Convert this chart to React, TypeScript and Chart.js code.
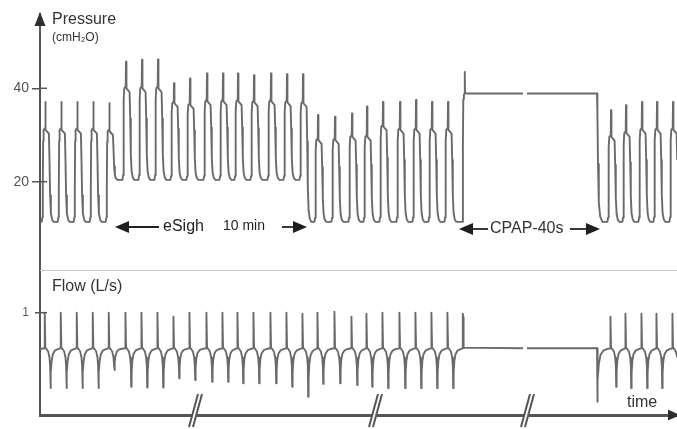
import React, { useEffect, useRef } from 'react';
import { Chart, registerables } from 'chart.js';

Chart.register(...registerables);

// ---------- data (time in recording units, pressure cmH2O, flow L/s) ----------
const timeRange = [0, 637];
const timeBreaks = [155, 335, 487];
const recordingGap = [483, 487];

const breathTimes = [
  5.3, 21.3, 37.3, 53.3, 69.3,
  86, 102, 118, 134, 150, 167, 183, 198, 214, 231, 247, 263,
  278, 295, 312, 327, 343, 360, 376, 392, 408,
  571, 586, 602, 617, 633,
];
const peakPressure = [
  37.1, 37.1, 37.1, 37.1, 36.8,
  45.7, 46.1, 46.2, 41.1, 42.1, 43.2, 43.2, 43.2, 42.8, 43.2, 43.0, 43.0,
  34.3, 33.9, 34.6, 36.1, 37.1, 37.1, 37.5, 37.1, 37.1,
  35.3, 36.4, 37.1, 37.1, 37.1,
];
const plateauPressure = [
  31.1, 31.1, 31.1, 31.1, 30.8,
  40.0, 40.0, 40.0, 36.8, 36.4, 37.2, 37.2, 37.2, 37.0, 37.2, 37.0, 36.8,
  28.9, 28.9, 29.6, 29.6, 31.8, 31.1, 31.1, 31.1, 31.1,
  29.6, 30.4, 31.1, 31.1, 31.1,
];
const peepAfter = [
  11.4, 11.4, 11.4, 11.4, 20.4,
  20.4, 20.4, 20.4, 20.4, 20.4, 20.4, 20.4, 20.4, 20.4, 20.4, 20.4, 11.4,
  11.4, 11.4, 11.4, 11.4, 11.4, 11.4, 11.4, 11.4, 11.4,
  11.4, 11.4, 11.4, 11.4, 11.4,
];
const startPeep = 11.4;

const flowPeak = [
  1.0, 1.0, 1.0, 1.0, 1.0,
  1.0, 1.0, 1.0, 0.89, 1.0, 1.0, 1.0, 1.0, 1.0, 1.0, 1.0, 0.97,
  1.0, 1.03, 0.89, 0.97, 1.0, 1.0, 1.0, 1.0, 1.0,
  0.89, 0.97, 0.97, 0.97, 0.97,
];
const flowTrough = [
  -1.12, -1.12, -1.12, -1.12, -0.61,
  -1.08, -1.1, -1.1, -0.84, -0.89, -0.94, -0.94, -0.98, -0.98, -0.98, -1.08, -1.36,
  -1.0, -0.98, -1.03, -1.08, -1.12, -1.12, -1.12, -1.12, -1.12,
  -1.08, -1.12, -1.12, -1.12, -1.12,
];

const cpapWindow = [423, 557];
const cpapPressure = 38.9;
const cpapOvershoot = 43.5;
const cpapInflowPeak = 0.97;
const cpapReleaseFlow = -1.5;

const pressureRange = [1.09, 55.91];
const flowRange = [-1.874, 2.2];
const pressureTicks = [20, 40];
const flowTicks = [1];

const eSighSpan = [75, 267];
const cpapSpan = [419, 560];

// ---------- trace construction ----------
type Pt = { x: number; y: number | null };

function addCpapPressure(pts: Pt[], base: number) {
  const [s, e] = cpapWindow;
  const L = cpapPressure;
  const d = L - base;
  pts.push(
    { x: s - 0.6, y: base },
    { x: s - 0.1, y: base + 0.6 * d },
    { x: s + 0.3, y: L - 1.2 },
    { x: s + 0.9, y: L - 0.3 },
    { x: s + 1.6, y: L },
    { x: s + 1.8, y: cpapOvershoot },
    { x: s + 2.0, y: L },
    { x: recordingGap[0], y: L },
    { x: (recordingGap[0] + recordingGap[1]) / 2, y: null },
    { x: recordingGap[1], y: L },
    { x: e, y: L },
    { x: e + 0.4, y: L - 0.15 * d },
    { x: e + 1.0, y: base + 0.45 * d },
    { x: e + 1.8, y: base + 0.15 * d },
    { x: e + 3.2, y: base + 0.04 * d },
    { x: e + 5.5, y: base },
  );
}

function pressureTrace(): Pt[] {
  const pts: Pt[] = [{ x: timeRange[0], y: startPeep }];
  let base = startPeep;
  let cpapDone = false;
  breathTimes.forEach((p, i) => {
    if (!cpapDone && cpapWindow[0] < p) {
      addCpapPressure(pts, base);
      cpapDone = true;
    }
    const P = peakPressure[i];
    const q = plateauPressure[i];
    const b1 = peepAfter[i];
    const up = q - base;
    const q2 = q - 0.8;
    const down = q2 - b1;
    pts.push(
      { x: p - 3.6, y: base },
      { x: p - 2.9, y: base + 0.05 * up },
      { x: p - 2.5, y: base + 0.35 * up },
      { x: p - 2.15, y: base + 0.88 * up },
      { x: p - 1.7, y: q },
      { x: p - 0.3, y: q + 0.4 },
      { x: p, y: P },
      { x: p + 0.45, y: q },
      { x: p + 3.6, y: q2 },
      { x: p + 4.2, y: b1 + 0.7 * down },
      { x: p + 4.8, y: b1 + 0.3 * down },
      { x: p + 5.6, y: b1 + 0.1 * down },
      { x: p + 6.7, y: b1 + 0.03 * down },
      { x: p + 8.2, y: b1 },
    );
    base = b1;
  });
  return pts;
}

function addCpapFlow(pts: Pt[]) {
  const [s, e] = cpapWindow;
  const R = cpapReleaseFlow;
  pts.push(
    { x: s - 0.5, y: 0 },
    { x: s - 0.2, y: cpapInflowPeak },
    { x: s + 0.2, y: cpapInflowPeak * 0.9 },
    { x: s + 0.6, y: 0.02 },
    { x: recordingGap[0], y: 0 },
    { x: (recordingGap[0] + recordingGap[1]) / 2, y: null },
    { x: recordingGap[1], y: 0 },
    { x: e, y: 0 },
    { x: e + 0.3, y: R },
    { x: e + 0.8, y: R * 0.6 },
    { x: e + 1.8, y: R * 0.3 },
    { x: e + 3.5, y: R * 0.12 },
    { x: e + 6.5, y: R * 0.04 },
    { x: e + 10, y: -0.02 },
  );
}

function flowTrace(): Pt[] {
  const pts: Pt[] = [{ x: timeRange[0], y: -0.02 }];
  let cpapDone = false;
  breathTimes.forEach((p, i) => {
    if (!cpapDone && cpapWindow[0] < p) {
      addCpapFlow(pts);
      cpapDone = true;
    }
    const F = flowPeak[i];
    const T = flowTrough[i];
    pts.push(
      { x: p - 1.0, y: 0 },
      { x: p - 0.75, y: F },
      { x: p - 0.35, y: F * 0.94 },
      { x: p + 0.05, y: 0.02 },
      { x: p + 1.5, y: -0.03 },
      { x: p + 3.0, y: -0.1 },
      { x: p + 4.2, y: -0.26 },
      { x: p + 4.85, y: -0.5 },
      { x: p + 5.2, y: T },
      { x: p + 5.6, y: T * 0.62 },
      { x: p + 6.3, y: T * 0.33 },
      { x: p + 7.5, y: T * 0.15 },
      { x: p + 9.5, y: T * 0.06 },
      { x: p + 12.5, y: T * 0.02 },
    );
  });
  return pts;
}

// ---------- drawing helpers ----------
const FONT = '"Liberation Sans", Arial, Helvetica, sans-serif';
const AXIS = '#555';
const TRACE = '#6a6a6a';

function head(ctx: CanvasRenderingContext2D, tx: number, ty: number, dx: number, dy: number, len: number, half: number) {
  const bx = tx - dx * len;
  const by = ty - dy * len;
  const px = -dy * half;
  const py = dx * half;
  ctx.beginPath();
  ctx.moveTo(tx, ty);
  ctx.lineTo(bx + px, by + py);
  ctx.lineTo(bx - px, by - py);
  ctx.closePath();
  ctx.fill();
}

function hline(ctx: CanvasRenderingContext2D, x0: number, x1: number, y: number) {
  ctx.beginPath();
  ctx.moveTo(x0, y);
  ctx.lineTo(x1, y);
  ctx.stroke();
}

const overlay = {
  id: 'overlay',
  beforeDatasetsDraw(chart: any) {
    const { ctx, chartArea } = chart;
    const yF = chart.scales.yF;
    ctx.save();
    ctx.strokeStyle = '#c8c8c8';
    ctx.lineWidth = 1;
    hline(ctx, chartArea.left, chartArea.right, Math.round(yF.top) + 0.5);
    ctx.restore();
  },
  afterDraw(chart: any) {
    const { ctx, chartArea } = chart;
    const x = chart.scales.x;
    const yP = chart.scales.yP;
    const yF = chart.scales.yF;
    const L = chartArea.left;
    const B = chartArea.bottom;
    ctx.save();

    // axis arrows
    ctx.fillStyle = '#2e2e2e';
    ctx.strokeStyle = AXIS;
    ctx.lineWidth = 2;
    ctx.beginPath();
    ctx.moveTo(L, chartArea.top + 2);
    ctx.lineTo(L, 20);
    ctx.stroke();
    head(ctx, L, 12, 0, -1, 14, 5.5);
    head(ctx, chartArea.right + 3, B, 1, 0, 12, 5.5);

    // inner halves of tick marks
    ctx.lineWidth = 1.5;
    pressureTicks.forEach((v) => hline(ctx, L, L + 7, yP.getPixelForValue(v)));
    flowTicks.forEach((v) => hline(ctx, L, L + 7, yF.getPixelForValue(v)));

    // time-axis breaks
    timeBreaks.forEach((t) => {
      const cx = x.getPixelForValue(t);
      ctx.fillStyle = '#fff';
      ctx.beginPath();
      ctx.moveTo(cx - 3, B + 3);
      ctx.lineTo(cx + 1, B + 3);
      ctx.lineTo(cx + 3, B - 3);
      ctx.lineTo(cx - 1, B - 3);
      ctx.closePath();
      ctx.fill();
      ctx.strokeStyle = AXIS;
      ctx.lineWidth = 2;
      ctx.beginPath();
      ctx.moveTo(cx - 6, B + 12);
      ctx.lineTo(cx + 3, B - 21);
      ctx.moveTo(cx - 2, B + 12);
      ctx.lineTo(cx + 7, B - 21);
      ctx.stroke();
    });

    // labels
    ctx.textBaseline = 'middle';
    ctx.textAlign = 'left';
    ctx.fillStyle = '#333';
    ctx.font = `16px ${FONT}`;
    ctx.fillText('Pressure', 52, 20);
    ctx.fillText('Flow (L/s)', 52, 287);
    ctx.fillText('time', 627, 403);
    ctx.font = `12px ${FONT}`;
    ctx.fillText('(cmH₂O)', 52, 38);

    // annotation arrows
    ctx.fillStyle = '#1e1e1e';
    ctx.strokeStyle = '#222';
    ctx.lineWidth = 1.8;
    const ya = 227;
    const e0 = x.getPixelForValue(eSighSpan[0]);
    const e1 = x.getPixelForValue(eSighSpan[1]);
    head(ctx, e0, ya, -1, 0, 14, 6);
    hline(ctx, e0 + 10, e0 + 44, ya);
    ctx.font = `16px ${FONT}`;
    ctx.fillText('eSigh', e0 + 48, ya);
    ctx.font = `14px ${FONT}`;
    ctx.fillText('10 min', e0 + 108, ya - 1);
    hline(ctx, e1 - 25, e1 - 10, ya);
    head(ctx, e1, ya, 1, 0, 14, 6);

    const yc = 229;
    const c0 = x.getPixelForValue(cpapSpan[0]);
    const c1 = x.getPixelForValue(cpapSpan[1]);
    head(ctx, c0, yc, -1, 0, 14, 6);
    hline(ctx, c0 + 10, c0 + 29, yc);
    ctx.font = `16px ${FONT}`;
    ctx.fillStyle = '#333';
    ctx.fillText('CPAP-40s', c0 + 31, yc);
    ctx.fillStyle = '#1e1e1e';
    hline(ctx, c1 - 30, c1 - 10, yc);
    head(ctx, c1, yc, 1, 0, 14, 6);

    ctx.restore();
  },
};

export default function App() {
  const ref = useRef<HTMLCanvasElement>(null);
  useEffect(() => {
    document.body.style.margin = '0';
    const chart = new Chart(ref.current as HTMLCanvasElement, {
      type: 'line',
      data: {
        datasets: [
          {
            label: 'Pressure (cmH₂O)',
            data: pressureTrace() as any,
            yAxisID: 'yP',
            borderColor: TRACE,
            borderWidth: 1.9,
            pointRadius: 0,
            tension: 0,
            borderJoinStyle: 'round',
            spanGaps: false,
          },
          {
            label: 'Flow (L/s)',
            data: flowTrace() as any,
            yAxisID: 'yF',
            borderColor: TRACE,
            borderWidth: 1.9,
            pointRadius: 0,
            tension: 0,
            borderJoinStyle: 'round',
            spanGaps: false,
          },
        ],
      },
      options: {
        responsive: false,
        animation: false,
        events: [],
        layout: { padding: { top: 14, bottom: 14, left: 0, right: 0 } },
        plugins: { legend: { display: false }, tooltip: { enabled: false } },
        scales: {
          x: {
            type: 'linear',
            min: timeRange[0],
            max: timeRange[1],
            ticks: { display: false },
            grid: { display: false, drawTicks: false },
            border: { display: true, color: AXIS, width: 3 },
            afterFit: (s: any) => { s.height = 0; },
          },
          yF: {
            type: 'linear',
            position: 'left',
            stack: 'trace',
            stackWeight: 145,
            weight: 0,
            min: flowRange[0],
            max: flowRange[1],
            afterBuildTicks: (s: any) => { s.ticks = flowTicks.map((v) => ({ value: v })); },
            afterFit: (s: any) => { s.width = 40; },
            ticks: { color: '#555', font: { family: FONT, size: 12 }, padding: 6 },
            grid: { drawOnChartArea: false, drawTicks: true, tickLength: 5, color: AXIS, lineWidth: 1.5 },
            border: { display: true, color: AXIS, width: 2 },
          },
          yP: {
            type: 'linear',
            position: 'left',
            stack: 'trace',
            stackWeight: 256,
            weight: 1,
            min: pressureRange[0],
            max: pressureRange[1],
            afterBuildTicks: (s: any) => { s.ticks = pressureTicks.map((v) => ({ value: v })); },
            afterFit: (s: any) => { s.width = 40; },
            ticks: { color: '#555', font: { family: FONT, size: 14 }, padding: 3 },
            grid: { drawOnChartArea: false, drawTicks: true, tickLength: 8, color: AXIS, lineWidth: 1.5 },
            border: { display: true, color: AXIS, width: 2 },
          },
        },
      } as any,
      plugins: [overlay],
    });
    return () => chart.destroy();
  }, []);
  return (
    <div style={{ width: 677, height: 429, background: '#fff' }}>
      <canvas ref={ref} width={677} height={429} style={{ display: 'block' }} />
    </div>
  );
}
